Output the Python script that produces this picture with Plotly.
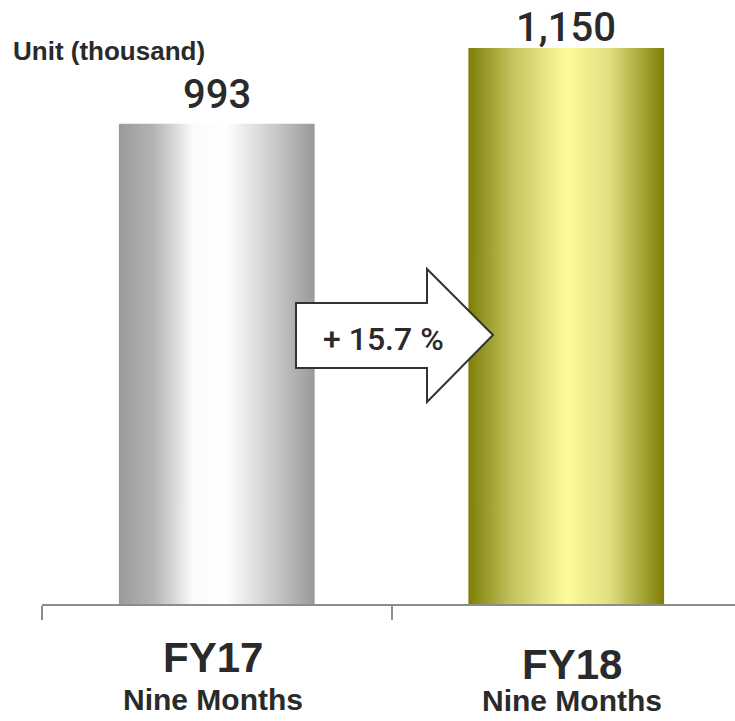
import plotly.graph_objects as go

# --- data ---
categories = ["FY17", "FY18"]
sub_labels = ["Nine Months", "Nine Months"]
units_thousand = [993, 1150]
value_labels = ["993", "1,150"]
growth_label = "+ 15.7 %"
unit_title = "Unit (thousand)"

# --- styling ---
W, H = 735, 721
M_L, M_R, M_T, M_B = 42, 0, 0, 117
PLOT_W = W - M_L - M_R
PLOT_H = H - M_T - M_B
CAT_PX = 349.5                      # pixel width of one category slot
X_RANGE = [-0.5, -0.5 + PLOT_W / CAT_PX]
Y_RANGE = [0, 1249]
BAR_W = 0.56
FONT = "Liberation Sans, Arial, sans-serif"
NUM_FONT = "Roboto, Liberation Sans, sans-serif"
TXT = "#2a2a2a"
AXIS = "#8c8c8c"

bar_scales = [
    [[0, "#9a9a9a"], [0.18, "#b4b4b4"], [0.38, "#fbfbfb"], [0.55, "#ffffff"],
     [0.8, "#c8c8c8"], [1, "#999999"]],
    [[0, "#7e7e06"], [0.22, "#c2c25e"], [0.5, "#fcfc9c"], [0.72, "#e0e082"],
     [1, "#7e7e06"]],
]
value_shift = [4, -5]          # label gap above each bar (px)
cat_xshift = [-4, 6]
cat_row_y = [[658, 699], [664, 701]]   # pixel centres of the two label rows


def py_to_paper(py):
    return (H - M_B - py) / PLOT_H


def px_to_paper(px):
    return (px - M_L) / PLOT_W


fig = go.Figure()

# gradient-filled bars, drawn as closed polygons on the numeric x axis
for i, v in enumerate(units_thousand):
    x0, x1 = i - BAR_W / 2, i + BAR_W / 2
    fig.add_trace(go.Scatter(
        x=[x0, x1, x1, x0, x0], y=[0, 0, v, v, 0],
        mode="lines", line=dict(width=0), fill="toself",
        fillgradient=dict(type="horizontal", colorscale=bar_scales[i]),
        hoverinfo="skip", showlegend=False,
    ))

annotations = []
for i, v in enumerate(units_thousand):
    annotations.append(dict(
        x=i, y=v, xref="x", yref="y", text=value_labels[i],
        showarrow=False, yanchor="bottom", yshift=value_shift[i],
        font=dict(family=NUM_FONT, size=40, color=TXT, weight=500),
    ))
    annotations.append(dict(
        x=i, y=py_to_paper(cat_row_y[i][0]), xref="x", yref="paper",
        text="<b>%s</b>" % categories[i], showarrow=False,
        yanchor="middle", xshift=cat_xshift[i],
        font=dict(family=FONT, size=42, color=TXT),
    ))
    annotations.append(dict(
        x=i, y=py_to_paper(cat_row_y[i][1]), xref="x", yref="paper",
        text="<b>%s</b>" % sub_labels[i], showarrow=False,
        yanchor="middle", xshift=cat_xshift[i],
        font=dict(family=FONT, size=30, color=TXT),
    ))

annotations.append(dict(
    x=px_to_paper(11), y=py_to_paper(51), xref="paper", yref="paper",
    text="<b>%s</b>" % unit_title, showarrow=False,
    xanchor="left", yanchor="middle",
    font=dict(family=FONT, size=26, color=TXT),
))
annotations.append(dict(
    x=px_to_paper(383), y=py_to_paper(339), xref="paper", yref="paper",
    text=growth_label, showarrow=False, xanchor="center", yanchor="middle",
    font=dict(family=NUM_FONT, size=32, color=TXT, weight=500),
))

# block arrow between the two bars
arrow_pts = [(296, 303), (427, 303), (427, 269), (493, 335),
             (427, 402), (427, 368), (296, 368)]
path = "M " + " L ".join(
    "%.5f,%.5f" % (px_to_paper(x), py_to_paper(y)) for x, y in arrow_pts) + " Z"

fig.update_layout(
    width=W, height=H,
    margin=dict(l=M_L, r=M_R, t=M_T, b=M_B, pad=0),
    paper_bgcolor="white", plot_bgcolor="white",
    showlegend=False,
    xaxis=dict(
        range=X_RANGE, showgrid=False, zeroline=False,
        showline=True, linecolor=AXIS, linewidth=2,
        tickvals=[-0.5, 0.5], ticktext=["", ""],
        ticks="outside", ticklen=14, tickwidth=2, tickcolor=AXIS,
        fixedrange=True,
    ),
    yaxis=dict(range=Y_RANGE, visible=False, fixedrange=True),
    shapes=[dict(type="path", path=path, xref="paper", yref="paper",
                 fillcolor="white", line=dict(color="#333333", width=2),
                 layer="above")],
    annotations=annotations,
)

fig.write_html("out.html", config={"displayModeBar": False})
